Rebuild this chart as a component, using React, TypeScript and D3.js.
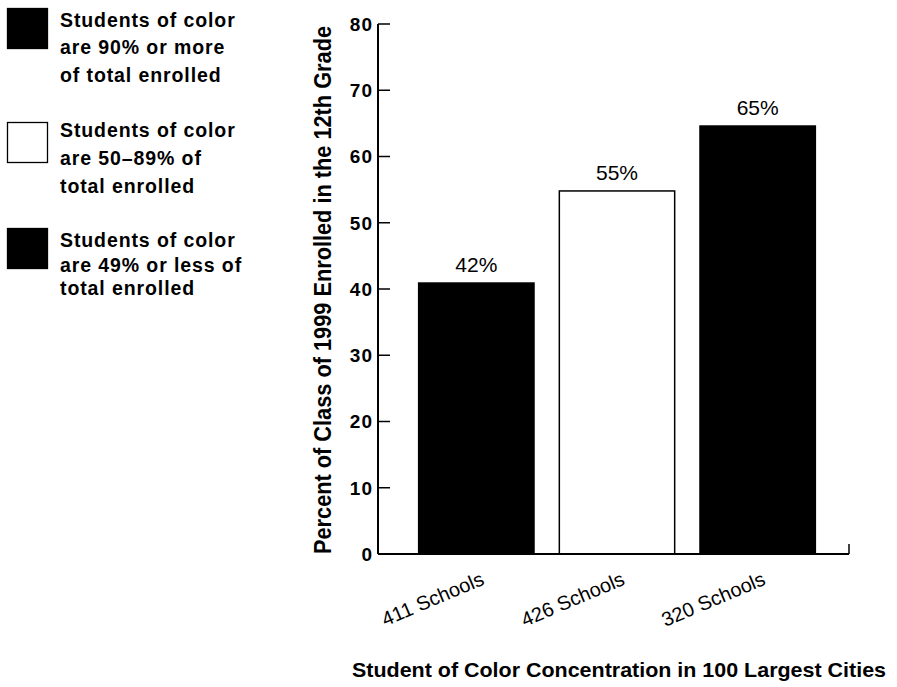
import React from "react";
import * as d3 from "d3";

// chart data
const categories = ["411 Schools", "426 Schools", "320 Schools"];
const barValues = [40.9, 54.8, 64.6];
const valueLabels = ["42%", "55%", "65%"];
const barFills = ["#000000", "#ffffff", "#000000"];
const yTicks = [0, 10, 20, 30, 40, 50, 60, 70, 80];

const legendFills = ["#000000", "#ffffff", "#000000"];
const legendLines = [
  ["Students of color", "are 90% or more", "of total enrolled"],
  ["Students of color", "are 50\u201389% of", "total enrolled"],
  ["Students of color", "are 49% or less of", "total enrolled"]
];

const yTitle = "Percent of Class of 1999  Enrolled in the 12th Grade";
const xTitle = "Student of Color Concentration in 100 Largest Cities";

const W = 897;
const H = 687;
const font = "'Liberation Sans', Arial, Helvetica, sans-serif";

export default function App() {
  const axisX = 378;
  const axisEnd = 849;

  const y = d3.scaleLinear().domain([0, 80]).range([554, 24]);
  const x = d3
    .scaleBand<string>()
    .domain(categories)
    .range([406, 828])
    .paddingInner(0.18)
    .paddingOuter(0.09);

  // legend block layout
  const legendTop = [8, 122, 228];
  const legendBase = [
    [27, 54, 82],
    [137, 165, 193],
    [247, 272, 295]
  ];

  return (
    <svg
      width={W}
      height={H}
      style={{ position: "absolute", left: 0, top: 0, background: "#fff" }}
      fontFamily={font}
    >
      {/* legend */}
      {legendFills.map((fill, i) => (
        <g key={i}>
          <rect
            x={7.5}
            y={legendTop[i] + 0.5}
            width={40}
            height={40}
            fill={fill}
            stroke="#000"
            strokeWidth={1.3}
          />
          {legendLines[i].map((ln, j) => (
            <text
              key={j}
              x={60}
              y={legendBase[i][j]}
              fontSize={19.5}
              fontWeight="bold"
              letterSpacing={0.9}
              fill="#000"
            >
              {ln}
            </text>
          ))}
        </g>
      ))}

      {/* bars */}
      {categories.map((c, i) => (
        <rect
          key={c}
          x={x(c)!}
          y={y(barValues[i])}
          width={x.bandwidth()}
          height={y(0) - y(barValues[i])}
          fill={barFills[i]}
          stroke="#000"
          strokeWidth={1.5}
        />
      ))}

      {/* value labels */}
      {categories.map((c, i) => (
        <text
          key={c}
          x={x(c)! + x.bandwidth() / 2}
          y={y(barValues[i]) - 11}
          textAnchor="middle"
          fontSize={21}
          fill="#000"
        >
          {valueLabels[i]}
        </text>
      ))}

      {/* y axis */}
      <line x1={axisX} x2={axisX} y1={y(80)} y2={y(0)} stroke="#000" strokeWidth={2} />
      {yTicks.map((t) => (
        <g key={t}>
          {t > 0 && (
            <line x1={axisX} x2={axisX + 12} y1={y(t)} y2={y(t)} stroke="#000" strokeWidth={1.5} />
          )}
          <text
            x={373}
            y={y(t)}
            dy="0.36em"
            textAnchor="end"
            fontSize={19}
            fontWeight="bold"
            letterSpacing={1}
            fill="#000"
          >
            {t}
          </text>
        </g>
      ))}

      {/* x axis */}
      <line x1={axisX} x2={axisEnd} y1={y(0)} y2={y(0)} stroke="#000" strokeWidth={2} />
      <line x1={axisEnd} x2={axisEnd} y1={y(0)} y2={y(0) - 10} stroke="#000" strokeWidth={1.5} />

      {categories.map((c) => (
        <text
          key={c}
          transform={`translate(${x(c)! + x.bandwidth() / 2 + 9},${584}) rotate(-23)`}
          textAnchor="end"
          fontSize={20}
          fill="#000"
        >
          {c}
        </text>
      ))}

      {/* axis titles */}
      <text
        transform={`translate(331,290) rotate(-90)`}
        textAnchor="middle"
        fontSize={24}
        fontWeight="bold"
        textLength={528}
        lengthAdjust="spacingAndGlyphs"
        fill="#000"
      >
        {yTitle}
      </text>
      <text
        x={619}
        y={677}
        textAnchor="middle"
        fontSize={21}
        fontWeight="bold"
        textLength={534}
        lengthAdjust="spacingAndGlyphs"
        fill="#000"
      >
        {xTitle}
      </text>
    </svg>
  );
}
